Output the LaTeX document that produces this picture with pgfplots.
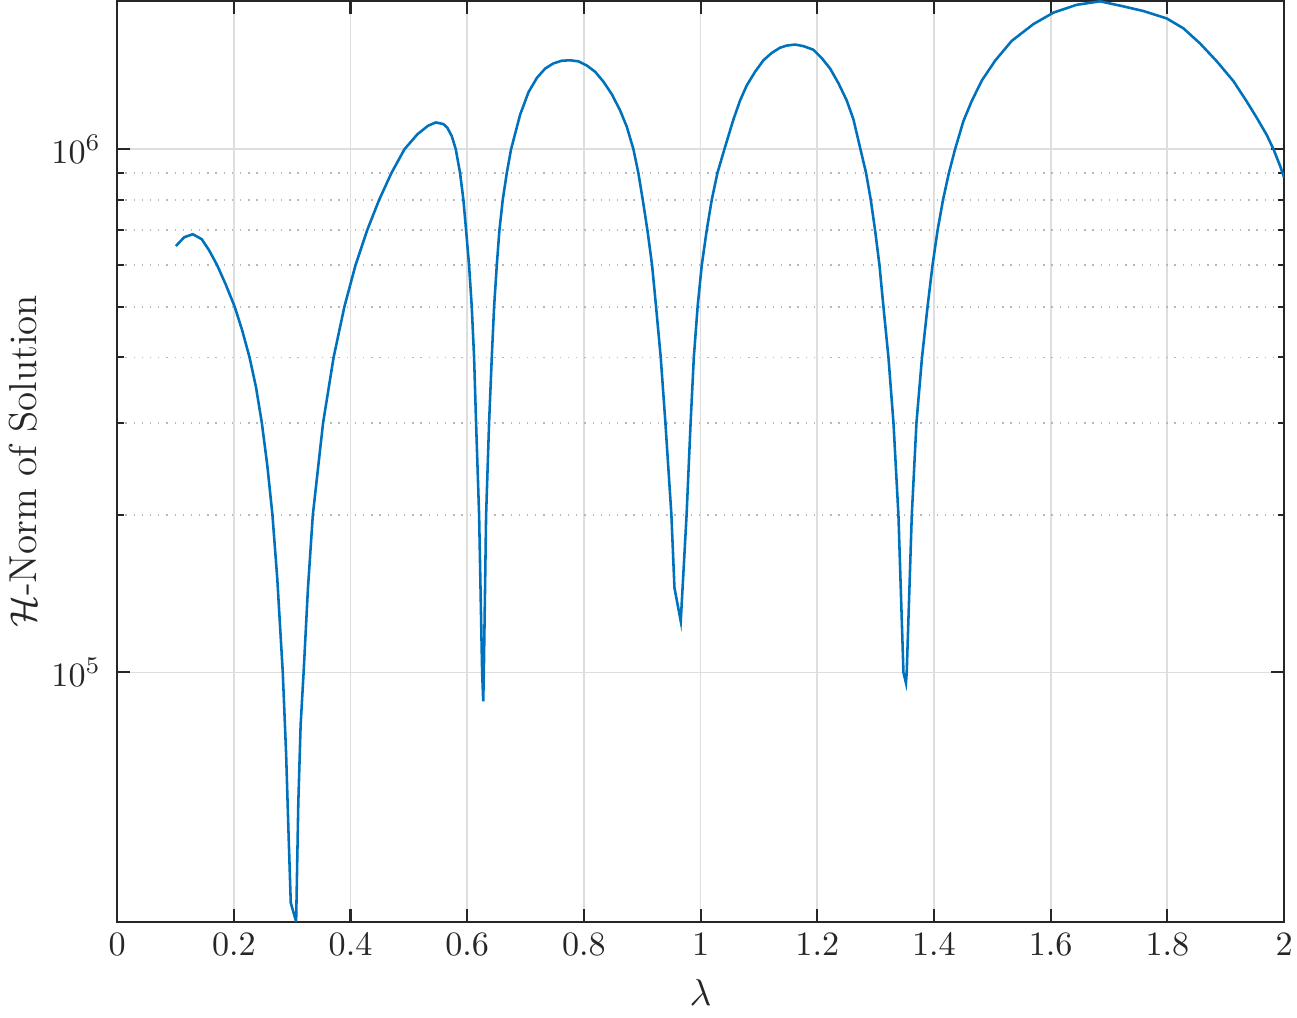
\documentclass[border=0pt]{standalone}
\usepackage{pgfplots}
\pgfplotsset{compat=1.18}

\definecolor{mblue}{rgb}{0,0.447,0.741}
\definecolor{axgray}{rgb}{0.15,0.15,0.15}
\definecolor{gridgray}{rgb}{0.87,0.87,0.87}
\definecolor{minorgray}{rgb}{0.72,0.72,0.72}

\begin{document}
\begin{tikzpicture}
\begin{semilogyaxis}[
    scale only axis,
    width=341.7pt,
    height=269.6pt,
    xmin=0, xmax=2,
    ymin=3.34e4, ymax=1.92e6,
    xtick={0,0.2,0.4,0.6,0.8,1,1.2,1.4,1.6,1.8,2},
    ytick={1e5,1e6},
    xticklabel style={/pgf/number format/fixed},
    yticklabel style={xshift=-1.2pt},
    xmajorgrids, ymajorgrids, yminorgrids,
    major grid style={gridgray, line width=0.5pt},
    minor grid style={minorgray, dotted, line width=0.5pt},
    axis line style={axgray, line width=0.6pt},
    tick style={axgray, line width=0.6pt},
    major tick length=3.8pt,
    minor tick length=1.9pt,
    tick align=inside,
    xtick pos=both, ytick pos=both,
    ticklabel style={text=axgray},
    label style={text=axgray, font=\fontsize{11.4}{13}\selectfont},
    ylabel shift=-2.6pt,
    xlabel={$\lambda$},
    ylabel={$\mathcal{H}$-Norm of Solution},
]
\addplot[color=mblue, line width=0.75pt] coordinates {
    (0.1006, 6.53e5) (0.1150, 6.79e5) (0.1297, 6.88e5) (0.1450, 6.73e5)
    (0.1580, 6.40e5) (0.1715, 6.00e5) (0.1860, 5.52e5) (0.2015, 5.00e5)
    (0.2140, 4.52e5) (0.2270, 4.00e5) (0.2380, 3.51e5) (0.2480, 3.00e5)
    (0.2575, 2.48e5) (0.2662, 2.00e5) (0.2745, 1.51e5) (0.2839, 1.00e5)
    (0.2896, 7.00e4) (0.2936, 5.00e4) (0.2976, 3.63e4) (0.3068, 3.34e4)
    (0.3105, 5.62e4) (0.3145, 7.94e4) (0.3196, 1.00e5) (0.3270, 1.445e5)
    (0.3354, 2.00e5) (0.3530, 3.00e5) (0.3710, 4.00e5) (0.3895, 5.00e5)
    (0.4085, 6.00e5) (0.4285, 7.00e5) (0.4490, 8.00e5) (0.4700, 9.00e5)
    (0.4925, 1.00e6) (0.5150, 1.069e6) (0.5330, 1.109e6) (0.5461, 1.125e6)
    (0.5593, 1.117e6) (0.5660, 1.099e6) (0.5736, 1.059e6) (0.5804, 1.00e6)
    (0.5878, 9.00e5) (0.5935, 8.00e5) (0.5981, 7.00e5) (0.6032, 6.00e5)
    (0.6078, 5.00e5) (0.6118, 4.00e5) (0.6152, 3.00e5) (0.6204, 2.00e5)
    (0.6256, 1.00e5) (0.6275, 8.81e4)
    (0.6285, 1.00e5) (0.6324, 2.00e5) (0.6375, 3.00e5) (0.6421, 4.00e5)
    (0.6461, 5.00e5) (0.6507, 6.00e5) (0.6552, 7.00e5) (0.6609, 8.00e5)
    (0.6678, 9.00e5) (0.6752, 1.00e6) (0.6907, 1.164e6) (0.7050, 1.285e6)
    (0.7193, 1.368e6) (0.7336, 1.426e6) (0.7478, 1.459e6) (0.7621, 1.476e6)
    (0.7764, 1.479e6) (0.7907, 1.472e6) (0.8050, 1.445e6) (0.8193, 1.406e6)
    (0.8335, 1.346e6) (0.8478, 1.274e6) (0.8621, 1.186e6) (0.8735, 1.104e6)
    (0.8849, 1.00e6) (0.8934, 9.00e5) (0.9009, 8.00e5) (0.9089, 7.00e5)
    (0.9169, 6.00e5) (0.9237, 5.00e5) (0.9317, 4.00e5) (0.9397, 3.00e5)
    (0.9500, 2.00e5) (0.9552, 1.452e5) (0.9660, 1.253e5)
    (0.9760, 2.00e5) (0.9829, 3.00e5) (0.9884, 4.00e5) (0.9949, 5.00e5)
    (1.0020, 6.00e5) (1.0105, 7.00e5) (1.0191, 8.00e5) (1.0288, 9.00e5)
    (1.0408, 1.00e6) (1.0563, 1.140e6) (1.0677, 1.239e6) (1.0791, 1.324e6)
    (1.0934, 1.406e6) (1.1077, 1.479e6) (1.1220, 1.528e6) (1.1362, 1.563e6)
    (1.1477, 1.578e6) (1.1620, 1.585e6) (1.1763, 1.574e6) (1.1934, 1.549e6)
    (1.2077, 1.493e6) (1.2220, 1.426e6) (1.2363, 1.337e6) (1.2505, 1.239e6)
    (1.2620, 1.140e6) (1.2740, 1.00e6) (1.2837, 9.00e5) (1.2917, 8.00e5)
    (1.2991, 7.00e5) (1.3066, 6.00e5) (1.3134, 5.00e5) (1.3220, 4.00e5)
    (1.3306, 3.00e5) (1.3391, 2.00e5) (1.3477, 1.00e5) (1.3520, 9.55e4)
    (1.3533, 1.00e5) (1.3620, 2.00e5) (1.3700, 3.00e5) (1.3795, 4.00e5)
    (1.3890, 5.00e5) (1.3975, 6.00e5) (1.4062, 7.00e5) (1.4155, 8.00e5)
    (1.4255, 9.00e5) (1.4362, 1.00e6) (1.4505, 1.132e6) (1.4647, 1.236e6)
    (1.4819, 1.352e6) (1.5047, 1.476e6) (1.5333, 1.611e6) (1.5704, 1.734e6)
    (1.6047, 1.824e6) (1.6447, 1.888e6) (1.6847, 1.917e6) (1.7248, 1.875e6)
    (1.7590, 1.837e6) (1.7990, 1.778e6) (1.8276, 1.702e6) (1.8562, 1.592e6)
    (1.8848, 1.472e6) (1.9133, 1.349e6) (1.9362, 1.233e6) (1.9533, 1.148e6)
    (1.9705, 1.064e6) (1.9819, 1.00e6) (1.9933, 9.29e5) (2.0000, 8.83e5)
};
\end{semilogyaxis}
\pgfresetboundingbox
\path[use as bounding box]
    ([xshift=-34.3pt, yshift=-28.1pt]current axis.south west)
    rectangle ([xshift=3.8pt, yshift=0.3pt]current axis.north east);
\end{tikzpicture}
\end{document}
